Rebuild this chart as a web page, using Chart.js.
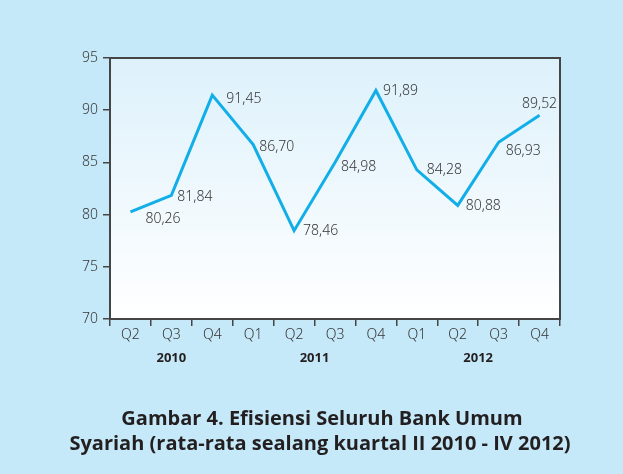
<!DOCTYPE html>
<html>
<head>
<meta charset="utf-8">
<script src="https://cdn.jsdelivr.net/npm/chart.js@4.4.0/dist/chart.umd.min.js"></script>
<style>
  body { margin: 0; background: #c6e9f9; }
  #wrap { width: 623px; height: 474px; }
</style>
</head>
<body>
<div id="wrap"><canvas id="chart" width="623" height="474"></canvas></div>
<script>
// Data
const quarters = ['Q2', 'Q3', 'Q4', 'Q1', 'Q2', 'Q3', 'Q4', 'Q1', 'Q2', 'Q3', 'Q4'];
const efisiensi = [80.26, 81.84, 91.45, 86.70, 78.46, 84.98, 91.89, 84.28, 80.88, 86.93, 89.52];
const years = ['2010', '2011', '2012'];
const quartersPerYear = [3, 4, 4];
const titleLines = ['Gambar 4. Efisiensi Seluruh Bank Umum', 'Syariah (rata-rata sealang kuartal II 2010 - IV 2012)'];

// label placement next to each point: [dx, dy, align]
const labelOffsets = [
  [15, 7, 'left'], [6, 2, 'left'], [14, 4, 'left'], [6, 2, 'left'],
  [9, 0, 'left'], [6, 4, 'left'], [7, 1, 'left'], [10, 0, 'left'],
  [8, 1, 'left'], [7, 9, 'left'], [0, -11, 'center']
];

const textColor = '#363636';
const axisColor = '#454545';
const lineColor = '#12aee8';
const labelFont = '300 14px "Noto Sans"';

function fmt(v) {
  return v.toFixed(2).replace('.', ',');
}

// Background, plot gradient, frame, value labels, years, caption
const decorPlugin = {
  id: 'decor',
  beforeDraw(chart) {
    const { ctx, chartArea: a } = chart;
    ctx.save();
    ctx.fillStyle = '#c6e9f9';
    ctx.fillRect(0, 0, chart.width, chart.height);
    const g = ctx.createLinearGradient(0, a.top, 0, a.bottom);
    g.addColorStop(0, '#ddf1fb');
    g.addColorStop(1, '#ffffff');
    ctx.fillStyle = g;
    ctx.fillRect(a.left, a.top, a.right - a.left, a.bottom - a.top);
    ctx.restore();
  },
  afterDraw(chart) {
    const { ctx, chartArea: a } = chart;
    const xScale = chart.scales.x;
    ctx.save();

    // frame
    ctx.strokeStyle = axisColor;
    ctx.lineWidth = 2;
    ctx.strokeRect(a.left, a.top, a.right - a.left, a.bottom - a.top);

    // value labels
    const meta = chart.getDatasetMeta(0);
    ctx.fillStyle = textColor;
    ctx.font = labelFont;
    ctx.textBaseline = 'middle';
    meta.data.forEach((pt, i) => {
      const [dx, dy, align] = labelOffsets[i];
      ctx.textAlign = align;
      ctx.fillText(fmt(efisiensi[i]), pt.x + dx, pt.y + dy);
    });

    // year labels centred under their quarters
    ctx.font = 'bold 13px "Noto Sans"';
    ctx.fillStyle = '#231f20';
    ctx.textAlign = 'center';
    let start = 0;
    years.forEach((yr, i) => {
      const end = start + quartersPerYear[i] - 1;
      const x = (xScale.getPixelForValue(start) + xScale.getPixelForValue(end)) / 2;
      ctx.fillText(yr, x, 358);
      start = end + 1;
    });

    // caption
    ctx.font = 'bold 20px "Open Sans"';
    ctx.fillText(titleLines[0], 322, 419);
    ctx.fillText(titleLines[1], 320, 444);
    ctx.restore();
  }
};

new Chart(document.getElementById('chart'), {
  type: 'line',
  data: {
    labels: quarters,
    datasets: [{
      data: efisiensi,
      borderColor: lineColor,
      borderWidth: 3,
      pointRadius: 0,
      tension: 0,
      fill: false
    }]
  },
  options: {
    responsive: false,
    animation: false,
    layout: { padding: { top: 58, right: 63, left: 0, bottom: 0 } },
    plugins: {
      legend: { display: false },
      tooltip: { enabled: false }
    },
    scales: {
      x: {
        offset: true,
        afterFit(scale) { scale.height = 155; },
        grid: { offset: true, drawOnChartArea: false, tickLength: 7, color: axisColor, lineWidth: 1.5 },
        border: { color: axisColor, width: 2 },
        ticks: { color: textColor, font: { family: 'Noto Sans', size: 14, weight: 300 }, padding: 1, maxRotation: 0, autoSkip: false }
      },
      y: {
        min: 70,
        max: 95,
        afterFit(scale) { scale.width = 110; },
        grid: { drawOnChartArea: false, tickLength: 7, color: axisColor, lineWidth: 1.5 },
        border: { color: axisColor, width: 2 },
        ticks: { stepSize: 5, color: textColor, font: { family: 'Noto Sans', size: 14, weight: 300 }, padding: 5 }
      }
    }
  },
  plugins: [decorPlugin]
});
</script>
</body>
</html>
